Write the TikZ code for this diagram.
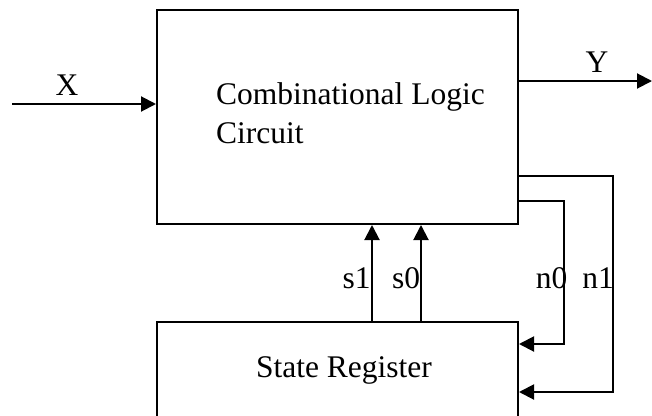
\documentclass[tikz,border=0pt]{standalone}
\usepackage{fontspec}
\setmainfont{Liberation Serif}
\usetikzlibrary{arrows.meta}
\begin{document}
\begin{tikzpicture}[x=1pt,y=-1pt,
  wire/.style={line width=2pt},
  arr/.style={wire,-{Triangle[length=15pt,width=15pt]}},
  blockbox/.style={draw,line width=2pt,inner sep=0pt,anchor=north west},
  txt/.style={inner sep=0pt,font=\fontsize{31.5}{38.5}\selectfont}]
\clip (0,0) rectangle (652,415);
\useasboundingbox (0,0) rectangle (652,415);
% blocks
\node[blockbox,minimum width=361pt,minimum height=214pt] (clc) at (156,9) {};
\node[blockbox,minimum width=361pt,minimum height=120pt] (sr) at (156,321) {};
\node[txt,anchor=north west,align=left] (clctext) at (216,82.5) {Combinational Logic\\Circuit};
\node[txt,anchor=base] (srtext) at (344,377) {State Register};
% coordinates
\coordinate (xin) at (12,104);
\coordinate (yout) at (652,81);
\coordinate (s1x) at (372,0);
\coordinate (s0x) at (421,0);
\coordinate (n0a) at (517,201);
\coordinate (n0b) at (564,201);
\coordinate (n0c) at (564,344);
\coordinate (n1a) at (517,176);
\coordinate (n1b) at (613,176);
\coordinate (n1c) at (613,392);
% connectors
\draw[arr] (xin) -- (xin -| clc.west);
\draw[arr] (yout -| clc.east) -- (yout);
\draw[arr] (sr.north -| s1x) -- (clc.south -| s1x);
\draw[arr] (sr.north -| s0x) -- (clc.south -| s0x);
\draw[arr] (n0a) -- (n0b) -- (n0c) -- (n0c -| sr.east);
\draw[arr] (n1a) -- (n1b) -- (n1c) -- (n1c -| sr.east);
% labels
\node[txt,anchor=base] (xl) at (67,95) {X};
\node[txt,anchor=base] (yl) at (597,72) {Y};
\node[txt,anchor=base] (s1l) at (356.5,288) {s1};
\node[txt,anchor=base] (s0l) at (406,288) {s0};
\node[txt,anchor=base] (n0l) at (551.5,288) {n0};
\node[txt,anchor=base] (n1l) at (598,288) {n1};
\end{tikzpicture}
\end{document}
